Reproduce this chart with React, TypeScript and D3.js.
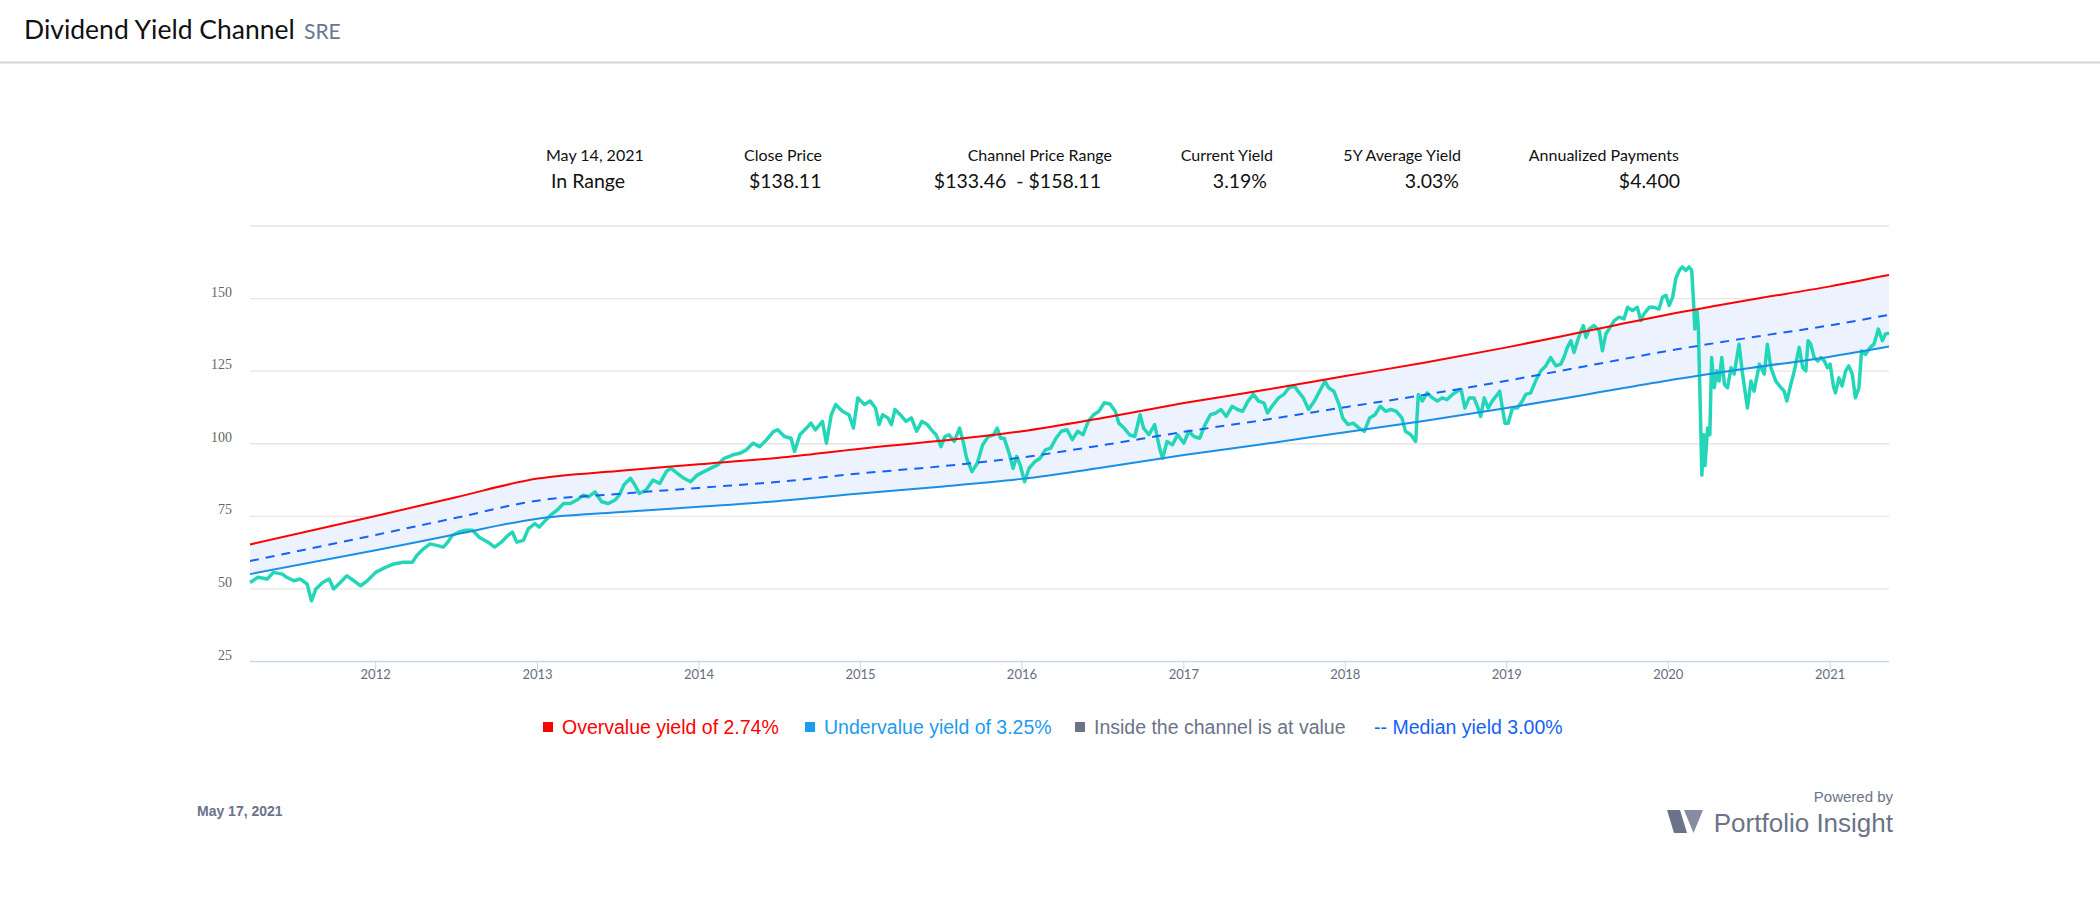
import React from 'react';
import * as d3 from 'd3';

// channel lines (quarterly-ish read points)
const channelDates = [
  '2011-03-23', '2012-01-01', '2012-07-01', '2013-01-01', '2013-07-01', '2014-01-01', '2014-07-01',
  '2015-01-01', '2015-07-01', '2016-01-01', '2016-07-01', '2017-01-01', '2017-07-01', '2018-01-01',
  '2018-07-01', '2019-01-01', '2019-07-01', '2020-01-01', '2020-07-01', '2021-01-01', '2021-05-14',
];
const overvalueLine = [65.3, 75.1, 81.6, 88.0, 90.6, 92.9, 95.2, 98.3, 101.0, 104.3, 108.9, 114.0, 118.5, 123.3, 128.0, 133.2, 138.8, 144.5, 149.5, 154.2, 158.11];
const medianLine = [59.6, 68.6, 74.5, 80.4, 82.7, 84.8, 86.9, 89.8, 92.2, 95.3, 99.5, 104.1, 108.2, 112.6, 116.9, 121.7, 126.8, 132.0, 136.5, 140.8, 144.4];
const undervalueLine = [55.1, 63.3, 68.8, 74.2, 76.4, 78.3, 80.3, 82.9, 85.2, 87.9, 91.8, 96.1, 99.9, 104.0, 107.9, 112.3, 117.0, 121.8, 126.0, 130.0, 133.46];

// close price
const closePrices: [string, number][] = [
  ['2011-03-23', 52.2], ['2011-04-10', 54.0], ['2011-05-01', 53.4], ['2011-05-15', 55.7], ['2011-06-04', 55.1],
  ['2011-06-14', 54.0], ['2011-06-30', 52.8], ['2011-07-15', 53.4], ['2011-07-30', 51.7], ['2011-08-09', 45.9],
  ['2011-08-19', 50.0], ['2011-09-03', 52.2], ['2011-09-18', 53.4], ['2011-09-28', 50.0], ['2011-10-13', 52.2],
  ['2011-10-28', 54.5], ['2011-11-13', 52.8], ['2011-11-28', 51.1], ['2011-12-13', 52.8], ['2012-01-01', 55.7],
  ['2012-01-23', 57.4], ['2012-02-11', 58.6], ['2012-03-03', 59.2], ['2012-03-24', 59.2], ['2012-04-03', 61.5],
  ['2012-04-18', 63.8], ['2012-05-03', 65.5], ['2012-05-18', 65.0], ['2012-06-02', 64.4], ['2012-06-12', 66.1],
  ['2012-06-22', 68.4], ['2012-07-07', 69.6], ['2012-07-23', 70.2], ['2012-08-07', 70.2], ['2012-08-22', 67.8],
  ['2012-09-11', 66.1], ['2012-09-26', 64.4], ['2012-10-11', 66.1], ['2012-10-26', 68.4], ['2012-11-05', 69.6],
  ['2012-11-15', 66.1], ['2012-11-30', 66.7], ['2012-12-11', 70.7], ['2012-12-26', 72.5], ['2013-01-05', 71.3],
  ['2013-01-15', 73.0], ['2013-01-30', 75.3], ['2013-02-14', 77.1], ['2013-03-01', 79.4], ['2013-03-16', 79.4],
  ['2013-03-31', 80.6], ['2013-04-15', 82.3], ['2013-04-26', 81.7], ['2013-05-11', 83.4], ['2013-05-26', 80.0],
  ['2013-06-10', 79.4], ['2013-06-25', 80.6], ['2013-07-05', 82.3], ['2013-07-15', 85.8], ['2013-07-30', 88.1],
  ['2013-08-09', 85.8], ['2013-08-19', 82.9], ['2013-09-03', 84.0], ['2013-09-19', 87.5], ['2013-10-04', 86.3],
  ['2013-10-19', 90.4], ['2013-10-29', 91.6], ['2013-11-13', 89.8], ['2013-11-28', 88.1], ['2013-12-13', 86.9],
  ['2013-12-28', 89.2], ['2014-01-12', 90.4], ['2014-01-28', 91.6], ['2014-02-12', 92.7], ['2014-02-27', 95.0],
  ['2014-03-19', 96.2], ['2014-04-03', 96.7], ['2014-04-18', 97.9], ['2014-05-03', 100.2], ['2014-05-18', 99.0],
  ['2014-06-03', 101.4], ['2014-06-18', 104.2], ['2014-06-28', 104.8], ['2014-07-13', 102.5], ['2014-07-28', 101.9],
  ['2014-08-05', 97.3], ['2014-08-17', 103.1], ['2014-09-01', 105.4], ['2014-09-11', 107.1], ['2014-09-21', 104.8],
  ['2014-10-07', 107.7], ['2014-10-16', 100.2], ['2014-10-27', 110.0], ['2014-11-06', 113.5], ['2014-11-21', 111.2],
  ['2014-12-06', 110.0], ['2014-12-16', 105.4], ['2014-12-26', 115.8], ['2015-01-10', 113.5], ['2015-01-23', 114.7],
  ['2015-02-04', 112.3], ['2015-02-12', 106.6], ['2015-02-20', 110.0], ['2015-03-04', 108.9], ['2015-03-12', 106.6],
  ['2015-03-20', 111.8], ['2015-04-01', 110.0], ['2015-04-14', 107.7], ['2015-04-26', 108.9], ['2015-05-08', 104.3],
  ['2015-05-20', 107.7], ['2015-06-01', 106.6], ['2015-06-13', 104.3], ['2015-06-21', 103.1], ['2015-07-02', 99.0],
  ['2015-07-11', 102.5], ['2015-07-20', 103.1], ['2015-08-01', 100.8], ['2015-08-13', 105.4], ['2015-08-21', 100.8],
  ['2015-08-29', 95.0], ['2015-09-10', 90.4], ['2015-09-22', 93.3], ['2015-10-04', 99.6], ['2015-10-17', 102.5],
  ['2015-10-29', 103.1], ['2015-11-06', 105.4], ['2015-11-14', 101.9], ['2015-11-22', 101.9], ['2015-12-04', 96.2],
  ['2015-12-12', 91.5], ['2015-12-20', 95.6], ['2015-12-28', 92.7], ['2016-01-07', 86.9], ['2016-01-17', 91.5],
  ['2016-01-30', 93.8], ['2016-02-11', 95.0], ['2016-02-23', 97.9], ['2016-03-06', 98.5], ['2016-03-18', 101.9],
  ['2016-03-30', 104.3], ['2016-04-12', 104.8], ['2016-04-24', 101.4], ['2016-05-06', 104.3], ['2016-05-18', 103.1],
  ['2016-05-30', 107.7], ['2016-06-11', 110.0], ['2016-06-23', 111.2], ['2016-07-05', 114.1], ['2016-07-18', 113.7],
  ['2016-07-30', 111.2], ['2016-08-07', 107.1], ['2016-08-19', 105.4], ['2016-08-31', 103.1], ['2016-09-12', 102.5],
  ['2016-09-24', 110.0], ['2016-10-02', 105.4], ['2016-10-14', 103.1], ['2016-10-27', 106.6], ['2016-11-08', 97.9],
  ['2016-11-14', 95.0], ['2016-11-24', 100.8], ['2016-12-06', 99.6], ['2016-12-18', 103.1], ['2017-01-01', 100.2],
  ['2017-01-12', 104.3], ['2017-01-24', 102.5], ['2017-02-06', 101.9], ['2017-02-18', 106.6], ['2017-03-02', 110.0],
  ['2017-03-14', 110.6], ['2017-03-26', 111.8], ['2017-04-07', 109.4], ['2017-04-20', 112.9], ['2017-05-02', 111.8],
  ['2017-05-14', 111.2], ['2017-05-26', 114.7], ['2017-06-07', 117.0], ['2017-06-19', 114.7], ['2017-07-01', 114.1],
  ['2017-07-09', 110.6], ['2017-07-22', 113.5], ['2017-08-03', 115.8], ['2017-08-15', 117.0], ['2017-08-27', 119.3],
  ['2017-09-08', 119.9], ['2017-09-16', 118.1], ['2017-09-28', 115.8], ['2017-10-10', 111.8], ['2017-10-23', 114.7],
  ['2017-11-04', 118.1], ['2017-11-16', 121.6], ['2017-11-24', 119.3], ['2017-12-06', 118.1], ['2017-12-18', 113.5],
  ['2017-12-26', 108.9], ['2018-01-07', 106.6], ['2018-01-19', 107.1], ['2018-02-01', 105.4], ['2018-02-13', 104.3],
  ['2018-02-25', 108.9], ['2018-03-09', 110.0], ['2018-03-21', 112.9], ['2018-04-02', 111.2], ['2018-04-14', 111.8],
  ['2018-04-26', 111.2], ['2018-05-09', 108.9], ['2018-05-17', 104.3], ['2018-05-29', 103.1], ['2018-06-09', 100.8],
  ['2018-06-15', 117.0], ['2018-06-24', 114.7], ['2018-07-05', 117.5], ['2018-07-17', 115.8], ['2018-07-28', 114.7],
  ['2018-08-08', 115.8], ['2018-08-19', 115.2], ['2018-08-31', 117.0], ['2018-09-11', 118.1], ['2018-09-20', 118.7],
  ['2018-09-28', 112.3], ['2018-10-08', 115.8], ['2018-10-19', 115.8], ['2018-10-28', 112.3], ['2018-11-03', 109.4],
  ['2018-11-11', 115.8], ['2018-11-20', 112.3], ['2018-11-29', 114.7], ['2018-12-11', 117.0], ['2018-12-16', 118.1],
  ['2018-12-22', 112.3], ['2018-12-28', 107.1], ['2019-01-04', 107.1], ['2019-01-14', 112.3], ['2019-01-25', 112.3],
  ['2019-02-05', 114.7], ['2019-02-13', 117.0], ['2019-02-24', 117.5], ['2019-03-07', 121.6], ['2019-03-19', 125.1],
  ['2019-03-30', 126.8], ['2019-04-10', 129.7], ['2019-04-22', 126.8], ['2019-05-03', 127.4], ['2019-05-10', 129.7],
  ['2019-05-18', 133.2], ['2019-05-26', 135.5], ['2019-06-02', 131.4], ['2019-06-10', 135.5], ['2019-06-17', 138.4],
  ['2019-06-23', 140.7], ['2019-06-29', 136.6], ['2019-07-06', 139.5], ['2019-07-17', 140.7], ['2019-07-29', 138.9],
  ['2019-08-05', 132.0], ['2019-08-13', 137.8], ['2019-08-20', 139.5], ['2019-09-01', 142.4], ['2019-09-12', 143.6],
  ['2019-09-23', 143.0], ['2019-10-01', 147.0], ['2019-10-12', 145.9], ['2019-10-23', 147.0], ['2019-10-31', 142.4],
  ['2019-11-07', 144.7], ['2019-11-19', 147.0], ['2019-11-30', 147.0], ['2019-12-11', 146.4], ['2019-12-19', 150.5],
  ['2019-12-27', 151.1], ['2020-01-03', 147.6], ['2020-01-11', 150.5], ['2020-01-18', 156.9], ['2020-01-26', 159.7],
  ['2020-02-02', 160.9], ['2020-02-10', 159.7], ['2020-02-17', 160.9], ['2020-02-23', 159.7], ['2020-02-27', 149.3],
  ['2020-03-01', 139.5], ['2020-03-06', 145.9], ['2020-03-09', 140.1], ['2020-03-13', 114.7], ['2020-03-17', 89.2],
  ['2020-03-21', 103.1], ['2020-03-24', 92.5], ['2020-03-30', 105.4], ['2020-04-04', 103.1], ['2020-04-08', 129.7],
  ['2020-04-14', 119.3], ['2020-04-20', 125.1], ['2020-04-25', 121.6], ['2020-05-01', 129.7], ['2020-05-07', 120.4],
  ['2020-05-14', 119.3], ['2020-05-22', 126.2], ['2020-05-29', 124.0], ['2020-06-09', 134.3], ['2020-06-17', 124.0],
  ['2020-06-28', 112.3], ['2020-07-06', 121.6], ['2020-07-13', 118.1], ['2020-07-25', 127.4], ['2020-08-05', 124.0],
  ['2020-08-12', 134.3], ['2020-08-20', 126.2], ['2020-08-31', 121.6], ['2020-09-12', 119.3], ['2020-09-19', 118.1],
  ['2020-09-25', 114.7], ['2020-10-04', 120.4], ['2020-10-12', 125.1], ['2020-10-23', 133.2], ['2020-10-31', 126.2],
  ['2020-11-07', 125.1], ['2020-11-12', 135.5], ['2020-11-18', 134.3], ['2020-11-26', 129.7], ['2020-12-04', 128.5],
  ['2020-12-11', 129.7], ['2020-12-19', 128.5], ['2020-12-26', 126.2], ['2021-01-01', 127.4], ['2021-01-09', 119.3],
  ['2021-01-13', 117.5], ['2021-01-21', 122.7], ['2021-01-28', 119.9], ['2021-02-05', 125.1], ['2021-02-12', 126.8],
  ['2021-02-20', 124.0], ['2021-02-27', 115.8], ['2021-03-07', 119.3], ['2021-03-13', 132.0], ['2021-03-22', 130.8],
  ['2021-04-02', 133.2], ['2021-04-10', 134.3], ['2021-04-20', 139.5], ['2021-04-29', 135.5], ['2021-05-06', 137.8],
  ['2021-05-14', 138.11],
];

const yTicks = [25, 50, 75, 100, 125, 150, 175];
const yTickLabels = ['25', '50', '75', '100', '125', '150', ''];

const statLabels = ['May 14, 2021', 'Close Price', 'Channel Price Range', 'Current Yield', '5Y Average Yield', 'Annualized Payments'];
const statValues = ['In Range', '$138.11', '$133.46  - $158.11', '3.19%', '3.03%', '$4.400'];

const legendItems = [
  { marker: 'square', color: '#ff0000', text: 'Overvalue yield of 2.74%' },
  { marker: 'square', color: '#1d9bf0', text: 'Undervalue yield of 3.25%' },
  { marker: 'square', color: '#6b7389', text: 'Inside the channel is at value' },
  { marker: 'dash', color: '#1463f4', text: '-- Median yield 3.00%' },
];

const parse = d3.timeParse('%Y-%m-%d');

export default function App() {
  const left = 250, right = 1889, top = 226, bottom = 661.5;

  const x = d3.scaleTime()
    .domain([parse('2011-03-23'), parse('2021-05-14')])
    .range([left, right]);
  const y = d3.scaleLinear().domain([25, 175]).range([bottom, top]);

  const chan = channelDates.map((d, i) => ({
    date: parse(d), over: overvalueLine[i], mid: medianLine[i], under: undervalueLine[i],
  }));
  const price = closePrices.map(([d, v]) => ({ date: parse(d), v }));

  const band = d3.area<any>().x(d => x(d.date)).y0(d => y(d.under)).y1(d => y(d.over)).curve(d3.curveMonotoneX);
  const lineOf = (key: string) => d3.line<any>().x(d => x(d.date)).y(d => y(d[key])).curve(d3.curveMonotoneX)(chan);
  const priceLine = d3.line<any>().x(d => x(d.date)).y(d => y(d.v))(price);

  const years = d3.timeYear.range(parse('2012-01-01'), parse('2021-06-01'));

  // stat columns: [label x, label anchor, value x, value anchor]
  const statPos: [number, string, number, string][] = [
    [546, 'start', 551, 'start'],
    [744, 'start', 749, 'start'],
    [1112, 'end', 1101, 'end'],
    [1273, 'end', 1267, 'end'],
    [1461, 'end', 1459, 'end'],
    [1679, 'end', 1680, 'end'],
  ];
  const legendX = [543, 805, 1075, 1374];

  return (
    <svg width={2100} height={904} style={{ position: 'absolute', left: 0, top: 0, background: '#fff' }}>
      <rect x={0} y={0} width={2100} height={904} fill="#fff" />
      {/* header */}
      <text x={24} y={39} fontFamily="Lato, sans-serif" fontSize={26.5} fill="#111">Dividend Yield Channel</text>
      <text x={304} y={39} fontFamily="Lato, sans-serif" fontSize={21} fill="#6b7594">SRE</text>
      <line x1={0} x2={2100} y1={62.5} y2={62.5} stroke="#d4d4d4" strokeWidth={2} />

      {/* stats row */}
      {statLabels.map((s, i) => (
        <text key={'l' + i} x={statPos[i][0]} y={161} textAnchor={statPos[i][1]}
          fontFamily="Lato, sans-serif" fontSize={16} fill="#111">{s}</text>
      ))}
      {statValues.map((s, i) => (
        <text key={'v' + i} x={statPos[i][2]} y={188} textAnchor={statPos[i][3]}
          fontFamily="Lato, sans-serif" fontSize={19.5} fill="#111" style={{ whiteSpace: 'pre' }}>{s}</text>
      ))}

      {/* grid */}
      {yTicks.map((t, i) => (
        <g key={t}>
          <line x1={left} x2={right} y1={y(t)} y2={y(t)} stroke={t === 25 ? '#ccd6eb' : '#e6e6e6'} strokeWidth={1.3} />
          <text x={232} y={y(t) - 2} textAnchor="end" fontFamily="'Liberation Serif', serif" fontSize={14} fill="#666">{yTickLabels[i]}</text>
        </g>
      ))}
      {years.map(d => (
        <g key={+d}>
          <line x1={x(d)} x2={x(d)} y1={bottom} y2={bottom + 10} stroke="#ccd6eb" strokeWidth={1} />
          <text x={x(d)} y={679} textAnchor="middle" fontFamily="Lato, sans-serif" fontSize={13} fill="#666d80">{d3.timeFormat('%Y')(d)}</text>
        </g>
      ))}

      {/* channel */}
      <path d={band(chan)} fill="#edf3fe" />
      <path d={priceLine} fill="none" stroke="#24d6b8" strokeWidth={3.5} strokeLinejoin="round" />
      <path d={lineOf('over')} fill="none" stroke="#ff0000" strokeWidth={2} />
      <path d={lineOf('under')} fill="none" stroke="#1a8fe6" strokeWidth={2} />
      <path d={lineOf('mid')} fill="none" stroke="#1463f4" strokeWidth={2} strokeDasharray="9,7" />

      {/* legend */}
      {legendItems.map((it, i) => (
        <g key={it.text}>
          {it.marker === 'square' && <rect x={legendX[i]} y={722} width={10} height={10} fill={it.color} />}
          <text x={it.marker === 'square' ? legendX[i] + 19 : legendX[i]} y={734}
            fontFamily="'Liberation Sans', Arial, sans-serif" fontSize={19.5} fill={it.color}>{it.text}</text>
        </g>
      ))}

      {/* footer */}
      <text x={197} y={816} fontFamily="'Liberation Sans', Arial, sans-serif" fontWeight="bold" fontSize={14} fill="#6b7389">May 17, 2021</text>
      <text x={1893} y={802} textAnchor="end" fontFamily="'Liberation Sans', Arial, sans-serif" fontSize={15} fill="#6b7389">Powered by</text>
      <text x={1893} y={832} textAnchor="end" fontFamily="'Liberation Sans', Arial, sans-serif" fontSize={26} fill="#6b7389">Portfolio Insight</text>
      <path d="M1667,810 L1680,810 L1687,833 L1674,833 Z" fill="#6b7389" />
      <path d="M1684,810 L1703,810 L1693.5,833 Z" fill="#868da3" />
    </svg>
  );
}
